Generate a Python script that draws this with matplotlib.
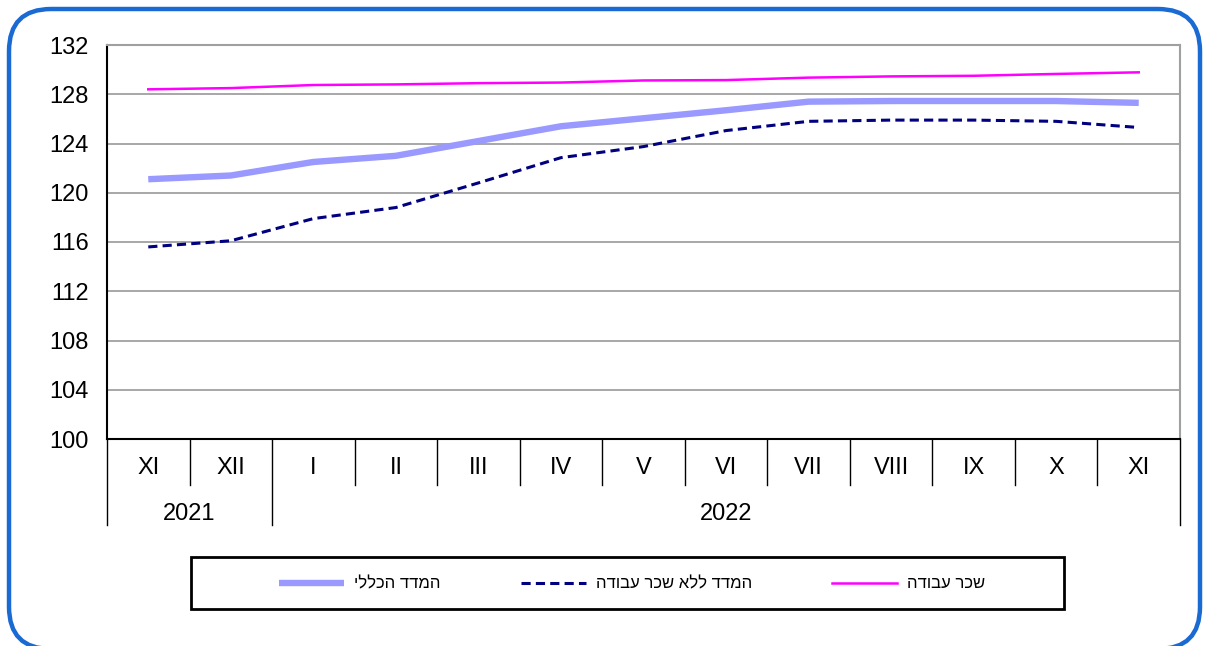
import numpy as np
import matplotlib
matplotlib.use("Agg")
import matplotlib.pyplot as plt
from matplotlib.patches import FancyBboxPatch, Rectangle
from matplotlib.transforms import blended_transform_factory

plt.rcParams['font.family'] = ['Liberation Sans', 'DejaVu Sans']

# data
months = ["XI", "XII", "I", "II", "III", "IV", "V", "VI", "VII", "VIII", "IX", "X", "XI"]
years = ["2021", "2022"]
year_spans = [(0, 1), (2, 12)]  # first / last month index of each year

general_index = [121.1, 121.4, 122.5, 123.0, 124.2, 125.4, 126.05, 126.7, 127.4, 127.45, 127.45, 127.45, 127.3]
no_labour_index = [115.6, 116.1, 117.9, 118.8, 120.8, 122.85, 123.75, 125.05, 125.8, 125.9, 125.9, 125.8, 125.3]
labour_wage = [128.4, 128.5, 128.75, 128.8, 128.9, 128.95, 129.12, 129.15, 129.35, 129.45, 129.5, 129.65, 129.78]

labels = ["המדד הכללי", "המדד ללא שכר עבודה", "שכר עבודה"]

y_ticks = np.arange(100, 133, 4)


def rtl(s):
    # matplotlib draws left to right, so flip hebrew for display
    return s[::-1]


W, H = 1205, 646
fig = plt.figure(figsize=(W / 100, H / 100), dpi=100)

# rounded blue frame
frame = FancyBboxPatch((9 / W, -3 / H), 1191 / W, 640 / H,
                       boxstyle="round,pad=0,rounding_size=0.035",
                       transform=fig.transFigure, fill=False,
                       edgecolor="#1a6ad4", linewidth=3.2, clip_on=False,
                       mutation_aspect=W / H)
fig.patches.append(frame)

ax = fig.add_axes([107 / W, 1 - 439 / H, (1180 - 107) / W, (439 - 45) / H])

x = np.arange(len(months))
l1, = ax.plot(x, general_index, color="#9999ff", lw=4.6, solid_capstyle="butt", zorder=3)
l2, = ax.plot(x, no_labour_index, color="#000080", lw=2.2, dashes=(3, 1.7), zorder=4)
l3, = ax.plot(x, labour_wage, color="#ff00ff", lw=1.8, zorder=3)

ax.set_xlim(-0.5, len(months) - 0.5)
ax.set_ylim(100, 132)
ax.set_yticks(y_ticks)
ax.set_yticklabels([str(v) for v in y_ticks], fontsize=17)
ax.tick_params(axis="y", length=0, pad=13)
ax.set_xticks([])
ax.grid(axis="y", color="#a0a0a0", lw=1.3)
ax.set_axisbelow(True)

for side in ["top", "right"]:
    ax.spines[side].set_color("#a0a0a0")
    ax.spines[side].set_linewidth(1.5)
for side in ["left", "bottom"]:
    ax.spines[side].set_color("black")
    ax.spines[side].set_linewidth(1.5)

# category table under the axis
tr = blended_transform_factory(ax.transData, ax.transAxes)
ax_h = 439 - 45
month_bottom = -(485 - 439) / ax_h
year_bottom = -(525 - 439) / ax_h
year_edges = [s[0] - 0.5 for s in year_spans] + [year_spans[-1][1] + 0.5]

for i, m in enumerate(months):
    ax.text(i, -(468 - 439) / ax_h, m, transform=tr, ha="center", va="center", fontsize=17)
for b in np.arange(len(months) + 1) - 0.5:
    low = year_bottom if b in year_edges else month_bottom
    ax.plot([b, b], [0, low], transform=tr, color="black", lw=1.0, clip_on=False)
for (a, b), yr in zip(year_spans, years):
    ax.text((a + b) / 2, -(514 - 439) / ax_h, yr, transform=tr, ha="center", va="center", fontsize=17)

# legend box
fig.patches.append(Rectangle((191 / W, 1 - 609 / H), (1064 - 191) / W, (609 - 557) / H,
                             transform=fig.transFigure, fill=False, edgecolor="black", lw=2))
fig.legend([l1, l2, l3], [rtl(s) for s in labels], loc="center left",
           bbox_to_anchor=(279 / W, 1 - 584 / H), ncol=3, frameon=False,
           fontsize=12, handlelength=3.9, handletextpad=0.6, columnspacing=4.8,
           borderpad=0, borderaxespad=0)

fig.savefig("out.png", dpi=100)
